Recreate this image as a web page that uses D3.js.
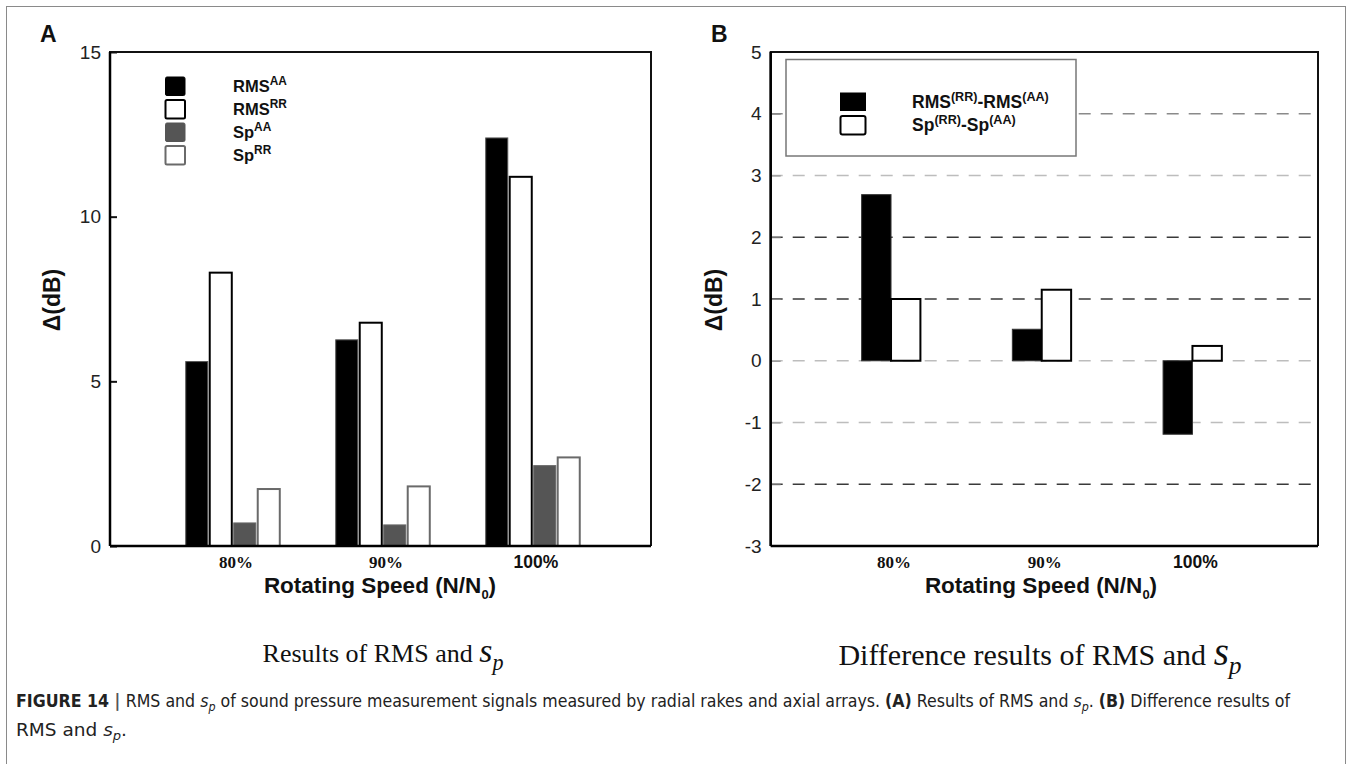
<!DOCTYPE html>
<html><head><meta charset="utf-8">
<script src="https://cdn.jsdelivr.net/npm/d3@7"></script>
<style>body{margin:0;background:#fff}svg{display:block}</style>
</head><body>
<svg id="fig" width="1356" height="764"></svg>
<script>
// Rotating speed categories
const speeds = ["80%", "90%", "100%"];
// Panel A: RMS and Sp (dB) for axial arrays (AA) and radial rakes (RR)
const rmsAA = [5.6, 6.26, 12.39];
const rmsRR = [8.3, 6.78, 11.21];
const spAA  = [0.70, 0.64, 2.44];
const spRR  = [1.73, 1.81, 2.69];
// Panel B: differences RR - AA (dB)
const rmsDiff = [2.69, 0.51, -1.19];
const spDiff  = [1.0, 1.15, 0.24];
// Axis ticks
const ticksA = [0, 5, 10, 15];
const ticksB = [-3, -2, -1, 0, 1, 2, 3, 4, 5];

const svg = d3.select("#fig");
const SANS = "'Liberation Sans', Arial, Helvetica, sans-serif";
const SERIF = "'Liberation Serif', 'Times New Roman', serif";

// page border
svg.append("rect").attr("x", 6.5).attr("y", 6.5).attr("width", 1339).attr("height", 770)
  .attr("fill", "none").attr("stroke", "#8a8a8a").attr("stroke-width", 1);

// ---------- shared helpers ----------
// bold label with superscript parts; a superscript lifts text, the next part drops back
function supText(g, x, y, parts, size, supRatio) {
  const r = supRatio || 0.68;
  const lift = size * 0.42;
  const t = g.append("text").attr("x", x).attr("y", y)
    .attr("font-family", SANS).attr("font-weight", "bold").attr("font-size", size)
    .attr("fill", "#111");
  let raised = false;
  parts.forEach(p => {
    if (p.sup) {
      t.append("tspan").text(p.sup).attr("font-size", size * r).attr("dy", raised ? 0 : -lift);
      raised = true;
    } else {
      t.append("tspan").text(p.t).attr("dy", raised ? lift : 0);
      raised = false;
    }
  });
  return t;
}

function xAxisLabels(g, x, y0) {
  speeds.forEach((s, i) => {
    const isSerif = s !== "100%";
    g.append("text").attr("x", x(i + 1) + 3).attr("y", y0)
      .attr("text-anchor", "middle")
      .attr("font-family", isSerif ? SERIF : SANS)
      .attr("font-weight", "bold").attr("font-size", isSerif ? 17 : 17.5)
      .attr("fill", "#111").text(s);
  });
}

function xTitle(g, cx, y) {
  const t = g.append("text").attr("x", cx).attr("y", y).attr("text-anchor", "middle")
    .attr("font-family", SANS).attr("font-weight", "bold").attr("font-size", 22.5).attr("fill", "#111");
  t.append("tspan").text("Rotating Speed (N/N");
  t.append("tspan").text("0").attr("font-size", 13).attr("dy", 6);
  t.append("tspan").text(")").attr("dy", -6);
}

function yTitle(g, x, cy) {
  g.append("text").attr("transform", `translate(${x},${cy}) rotate(-90)`)
    .attr("text-anchor", "middle").attr("font-family", SANS).attr("font-weight", "bold")
    .attr("font-size", 23).attr("fill", "#111").text("\u0394(dB)");
}

function subCaption(g, cx, y, size, words) {
  const t = g.append("text").attr("x", cx).attr("y", y).attr("text-anchor", "middle")
    .attr("font-family", SERIF).attr("font-size", size).attr("fill", "#111");
  t.append("tspan").text(words);
  t.append("tspan").text("s").attr("font-style", "italic").attr("font-size", size * 1.3);
  t.append("tspan").text("p").attr("font-style", "italic").attr("font-size", size * 0.85).attr("dy", size * 0.3);
  return t;
}

// ---------- Panel A ----------
const A = { left: 110, right: 651, top: 52, bottom: 546 };
const xA = d3.scaleLinear().domain([0.18, 3.787]).range([A.left, A.right]);
const yA = d3.scaleLinear().domain([0, 15]).range([A.bottom, A.top]);
const gA = svg.append("g");

gA.append("text").attr("x", 40).attr("y", 42).attr("font-family", SANS)
  .attr("font-weight", "bold").attr("font-size", 23).attr("fill", "#111").text("A");

const seriesA = [
  { vals: rmsAA, fill: "#000", stroke: "#555", sw: 1 },
  { vals: rmsRR, fill: "#fff", stroke: "#000", sw: 2 },
  { vals: spAA,  fill: "#555", stroke: "#666", sw: 1 },
  { vals: spRR,  fill: "#fff", stroke: "#6a6a6a", sw: 2 }
];
const pitchA = 0.16, widthA = 0.147;
seriesA.forEach((s, j) => {
  gA.append("g").selectAll("rect").data(s.vals).join("rect")
    .attr("x", (d, i) => xA(i + 1 + (j - 2) * pitchA + 0.005))
    .attr("width", xA(widthA) - xA(0))
    .attr("y", d => yA(d))
    .attr("height", d => yA(0) - yA(d))
    .attr("fill", s.fill).attr("stroke", s.stroke).attr("stroke-width", s.sw);
});

// axis A (inward ticks)
const axA = gA.append("g").attr("transform", `translate(${A.left},0)`)
  .call(d3.axisLeft(yA).tickValues(ticksA).tickFormat(d => String(d))
    .tickSizeInner(-7).tickSizeOuter(0).tickPadding(9));
axA.select(".domain").remove();
axA.selectAll(".tick line").attr("stroke", "#111").attr("stroke-width", 2);
axA.selectAll(".tick text").attr("font-family", SANS).attr("font-size", 19).attr("fill", "#222");

// frame A
gA.append("path").attr("d", `M${A.left},${A.bottom}V${A.top}H${A.right}V${A.bottom}`)
  .attr("fill", "none").attr("stroke", "#111").attr("stroke-width", 2);
gA.append("line").attr("x1", A.left).attr("x2", A.right).attr("y1", A.bottom).attr("y2", A.bottom)
  .attr("stroke", "#000").attr("stroke-width", 2.5);
gA.append("line").attr("x1", A.left).attr("x2", A.left).attr("y1", A.top).attr("y2", A.bottom)
  .attr("stroke", "#000").attr("stroke-width", 2.5);

// legend A
const legA = [
  { name: "RMS", sup: "AA", fill: "#000", stroke: "#000", sw: 1 },
  { name: "RMS", sup: "RR", fill: "#fff", stroke: "#000", sw: 2 },
  { name: "Sp",  sup: "AA", fill: "#555", stroke: "#555", sw: 1 },
  { name: "Sp",  sup: "RR", fill: "#fff", stroke: "#6a6a6a", sw: 2 }
];
legA.forEach((l, k) => {
  const y0 = 77 + k * 23;
  gA.append("rect").attr("x", 165.5).attr("y", y0).attr("width", 19.5).attr("height", 18.5)
    .attr("rx", 1.5).attr("fill", l.fill).attr("stroke", l.stroke).attr("stroke-width", l.sw);
  supText(gA, 233, y0 + 15, [{ t: l.name }, { sup: l.sup }], 16.5, 0.72);
});

xAxisLabels(gA, xA, 568);
xTitle(gA, 380, 593);
yTitle(gA, 60, 300);
subCaption(gA, 383, 662, 26, "Results of RMS and ");

// ---------- Panel B ----------
const B = { left: 770.7, right: 1318, top: 52, bottom: 546 };
const xB = d3.scaleLinear().domain([0.2017, 3.833]).range([B.left, B.right]);
const yB = d3.scaleLinear().domain([-3, 5]).range([B.bottom, B.top]);
const gB = svg.append("g");

gB.append("text").attr("x", 711).attr("y", 42).attr("font-family", SANS)
  .attr("font-weight", "bold").attr("font-size", 23).attr("fill", "#111").text("B");

// dashed grid lines
const darkGrid = new Set([2, 1, -2]);
gB.append("g").selectAll("line").data(ticksB.filter(t => t > -3 && t < 5)).join("line")
  .attr("x1", B.left).attr("x2", B.right)
  .attr("y1", d => yB(d)).attr("y2", d => yB(d))
  .attr("stroke", d => darkGrid.has(d) ? "#3a3a3a" : (d === 4 ? "#8a8a8a" : "#bdbdbd"))
  .attr("stroke-width", 1.4).attr("stroke-dasharray", "12,10");

// legend B box
gB.append("rect").attr("x", 786).attr("y", 59.5).attr("width", 290).attr("height", 96.5)
  .attr("fill", "#fff").attr("stroke", "#777").attr("stroke-width", 1.5);

// bars B
const pitchB = 0.195;
gB.append("g").selectAll("rect").data(rmsDiff).join("rect")
  .attr("x", (d, i) => xB(i + 1 - pitchB))
  .attr("width", xB(pitchB) - xB(0))
  .attr("y", d => yB(Math.max(0, d)))
  .attr("height", d => Math.abs(yB(d) - yB(0)))
  .attr("fill", "#000").attr("stroke", "#333").attr("stroke-width", 1);
gB.append("g").selectAll("rect").data(spDiff).join("rect")
  .attr("x", (d, i) => xB(i + 1))
  .attr("width", xB(pitchB) - xB(0))
  .attr("y", d => yB(Math.max(0, d)))
  .attr("height", d => Math.abs(yB(d) - yB(0)))
  .attr("fill", "#fff").attr("stroke", "#000").attr("stroke-width", 2);

// axis B
const axB = gB.append("g").attr("transform", `translate(${B.left},0)`)
  .call(d3.axisLeft(yB).tickValues(ticksB).tickFormat(d => String(d))
    .tickSizeInner(-10).tickSizeOuter(0).tickPadding(9));
axB.select(".domain").remove();
axB.selectAll(".tick line").attr("stroke", "#888").attr("stroke-width", 1);
axB.selectAll(".tick text").attr("font-family", SANS).attr("font-size", 19).attr("fill", "#222");

// frame B
gB.append("path").attr("d", `M${B.left},${B.bottom}V${B.top}H${B.right}V${B.bottom}`)
  .attr("fill", "none").attr("stroke", "#111").attr("stroke-width", 2);
gB.append("line").attr("x1", B.left).attr("x2", B.right).attr("y1", B.bottom).attr("y2", B.bottom)
  .attr("stroke", "#000").attr("stroke-width", 2.5);
gB.append("line").attr("x1", B.left).attr("x2", B.left).attr("y1", B.top).attr("y2", B.bottom)
  .attr("stroke", "#000").attr("stroke-width", 2.5);

// legend B entries
gB.append("rect").attr("x", 840.5).attr("y", 93).attr("width", 25).attr("height", 17.5)
  .attr("fill", "#000").attr("stroke", "#000");
gB.append("rect").attr("x", 840.5).attr("y", 116).attr("width", 25).attr("height", 18.5)
  .attr("rx", 2).attr("fill", "#fff").attr("stroke", "#000").attr("stroke-width", 2);
supText(gB, 912, 108, [{ t: "RMS" }, { sup: "(RR)" }, { t: "-RMS" }, { sup: "(AA)" }], 17.5, 0.72);
supText(gB, 912, 131, [{ t: "Sp" }, { sup: "(RR)" }, { t: "-Sp" }, { sup: "(AA)" }], 17.5, 0.72);

xAxisLabels(gB, xB, 568);
xTitle(gB, 1041, 593);
yTitle(gB, 722, 300);
subCaption(gB, 1040, 665, 30, "Difference results of RMS and ");

// ---------- figure caption ----------
const CAP = "'Liberation Sans Narrow', 'DejaVu Sans Condensed', 'Liberation Sans', sans-serif";
const l1 = svg.append("text").attr("x", 16).attr("y", 707).attr("font-family", CAP)
  .attr("font-size", 17).attr("fill", "#222")
  .attr("textLength", 1274).attr("lengthAdjust", "spacingAndGlyphs");
l1.append("tspan").text("FIGURE 14").attr("font-weight", "bold");
l1.append("tspan").text(" | ").attr("font-weight", "bold").attr("fill", "#555");
l1.append("tspan").text("RMS and ");
l1.append("tspan").text("s").attr("font-style", "italic");
l1.append("tspan").text("p").attr("font-style", "italic").attr("font-size", 12).attr("dy", 4);
l1.append("tspan").text(" of sound pressure measurement signals measured by radial rakes and axial arrays. ").attr("dy", -4);
l1.append("tspan").text("(A)").attr("font-weight", "bold");
l1.append("tspan").text(" Results of RMS and ");
l1.append("tspan").text("s").attr("font-style", "italic");
l1.append("tspan").text("p").attr("font-style", "italic").attr("font-size", 12).attr("dy", 4);
l1.append("tspan").text(". ").attr("dy", -4);
l1.append("tspan").text("(B)").attr("font-weight", "bold");
l1.append("tspan").text(" Difference results of");

const l2 = svg.append("text").attr("x", 16).attr("y", 736).attr("font-family", CAP)
  .attr("font-size", 17).attr("fill", "#222")
  .attr("textLength", 111).attr("lengthAdjust", "spacingAndGlyphs");
l2.append("tspan").text("RMS and ");
l2.append("tspan").text("s").attr("font-style", "italic");
l2.append("tspan").text("p").attr("font-style", "italic").attr("font-size", 12).attr("dy", 4);
l2.append("tspan").text(".").attr("dy", -4);
</script>
</body></html>
